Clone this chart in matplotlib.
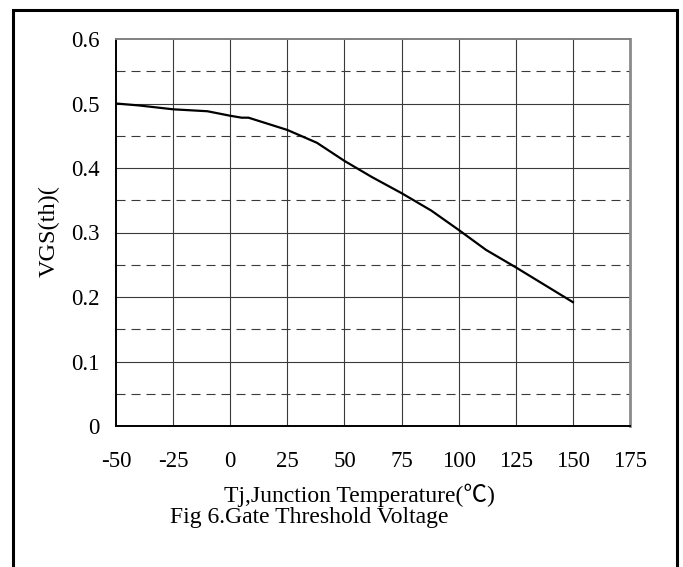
import matplotlib
matplotlib.use("Agg")
import matplotlib.pyplot as plt
from matplotlib.patches import Rectangle

# Data
temps = [-50, -40, -25, -10, 0, 5, 8, 25, 38, 50, 62, 75, 88, 100, 112, 125, 150]
vgs = [0.500, 0.497, 0.491, 0.488, 0.481, 0.478, 0.478, 0.459, 0.439, 0.411,
       0.386, 0.361, 0.334, 0.304, 0.273, 0.246, 0.192]
xticks = [-50, -25, 0, 25, 50, 75, 100, 125, 150, 175]
xtick_labels = ["-50", "-25", "0", "25", "50", "75", "100", "125", "150", "175"]
yticks = [0, 0.1, 0.2, 0.3, 0.4, 0.5, 0.6]
ytick_labels = ["0", "0.1", "0.2", "0.3", "0.4", "0.5", "0.6"]
dash_levels = [0.05, 0.15, 0.25, 0.35, 0.45, 0.55]

plt.rcParams['font.family'] = ['Liberation Serif', 'Noto Sans CJK SC', 'DejaVu Sans']
plt.rcParams['lines.scale_dashes'] = False

W, H = 683, 567
fig = plt.figure(figsize=(W / 100, H / 100), dpi=100)
fig.patch.set_facecolor('white')

L, R, T, B = 116, 630, 39, 426
ax = fig.add_axes([L / W, 1 - B / H, (R - L) / W, (B - T) / H])

ax.set_xlim(-50, 175)
ax.set_ylim(0, 0.6)

grid_col = '#3a3a3a'
for x in xticks[1:-1]:
    ax.axvline(x, color=grid_col, lw=0.8, zorder=1)
for y in yticks[1:-1]:
    ax.axhline(y, color=grid_col, lw=0.8, zorder=1)
for y in dash_levels:
    ax.axhline(y, color=grid_col, lw=0.8, linestyle=(0, (6.5, 4.3)), zorder=1)

ax.plot(temps, vgs, color='black', lw=1.6, zorder=3)

ax.set_xticks(xticks)
ax.set_xticklabels(xtick_labels)
ax.set_yticks(yticks)
ax.set_yticklabels(ytick_labels)
ax.tick_params(axis='both', length=0, labelsize=16.5)
ax.tick_params(axis='x', pad=18)
ax.tick_params(axis='y', pad=12)

for side in ['left', 'bottom']:
    ax.spines[side].set_color('black')
    ax.spines[side].set_linewidth(1.4)
ax.spines['top'].set_color('#808080')
ax.spines['top'].set_linewidth(1.4)
ax.spines['right'].set_color('#8a8a8a')
ax.spines['right'].set_linewidth(2.0)

fig.text(359.5 / W, 1 - 502 / H, "Tj,Junction Temperature(\u2103)", ha='center',
         va='baseline', fontsize=17)
fig.text(309.5 / W, 1 - 523 / H, "Fig 6.Gate Threshold Voltage", ha='center',
         va='baseline', fontsize=17)
fig.text(49.5 / W, 1 - 231 / H, "VGS(th)(", rotation=90, ha='center',
         va='center', fontsize=17.5)

border = Rectangle((12.5 / W, -0.05), (677 - 12.5) / W, 1.05 - 9.5 / H,
                   transform=fig.transFigure, fill=False, edgecolor='black',
                   lw=2.2, clip_on=False)
fig.patches.append(border)

fig.savefig('out.png', dpi=100, facecolor='white')
